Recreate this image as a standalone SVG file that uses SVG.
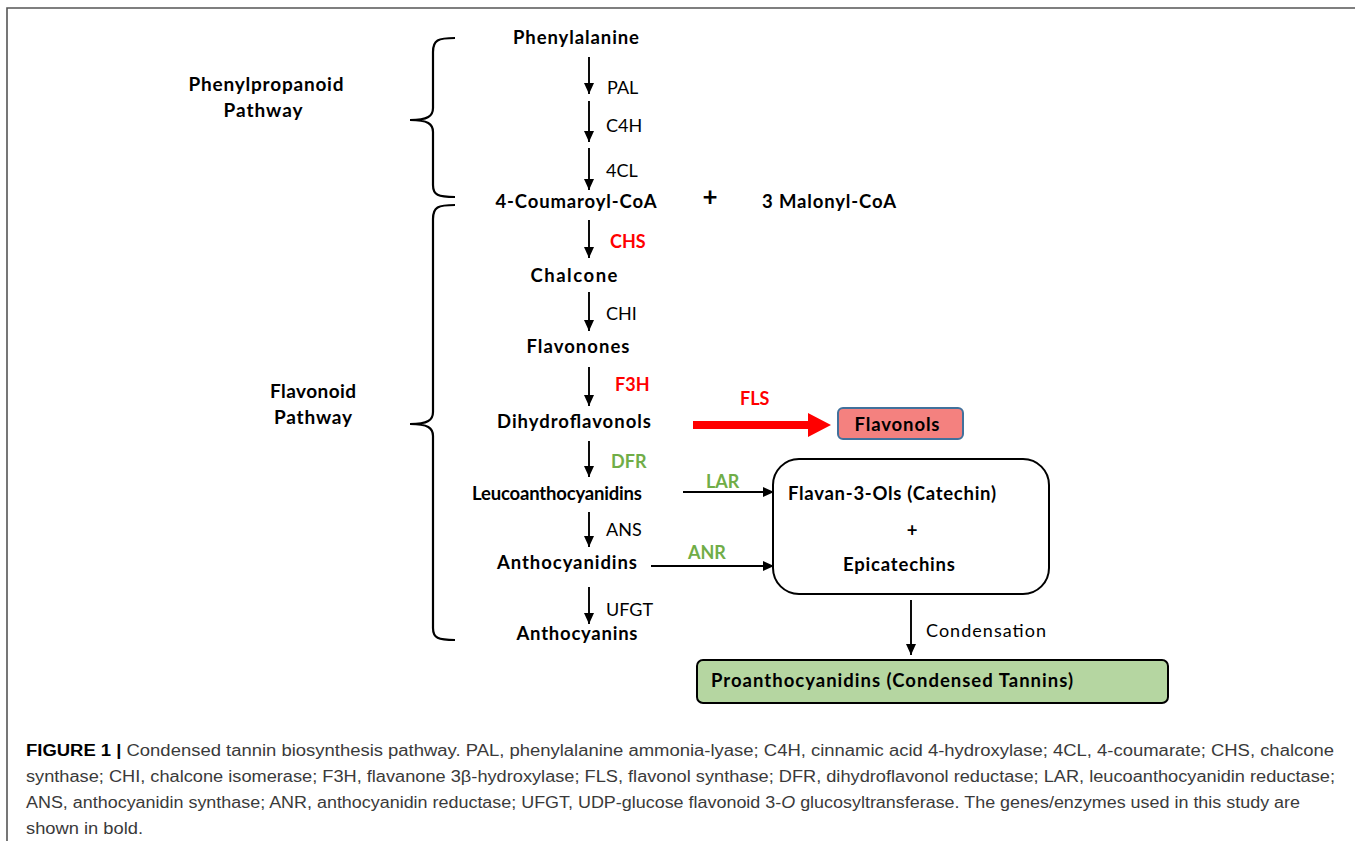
<svg xmlns="http://www.w3.org/2000/svg" width="1355" height="841" viewBox="0 0 1355 841">
<defs>
<marker id="ah" markerWidth="11" markerHeight="11" refX="11" refY="5.5" orient="auto" markerUnits="userSpaceOnUse">
<path d="M0,0.5 L11,5.5 L0,10.5 Z" fill="#000"/>
</marker>
<style>
.m{font-family:Lato,"Liberation Sans",sans-serif;font-weight:bold;font-size:18.5px;fill:#000}
.e{font-family:Lato,"Liberation Sans",sans-serif;font-size:18px;fill:#000}
.eb{font-family:Lato,"Liberation Sans",sans-serif;font-weight:bold;font-size:18px}
.pw{font-family:Lato,"Liberation Sans",sans-serif;font-weight:bold;font-size:19px;fill:#000}
.cap{font-family:"Liberation Sans",Arial,sans-serif;font-size:16px;fill:#3a3a3a}
.arr{stroke:#000;stroke-width:1.9;fill:none;marker-end:url(#ah)}
.br{stroke:#000;stroke-width:2.2;fill:none}
</style>
</defs>
<rect width="1355" height="841" fill="#fff"/>
<path d="M7,841 L7,8 L1355,8" fill="none" stroke="#555" stroke-width="1.6"/>

<g id="braces">
<path class="br" d="M455,38 C438,38 433,40 433,52 L433,108 C433,116 428,120 410,120 C428,120 433,124 433,132 L433,185 C433,195 438,197 455,197"/>
<path class="br" d="M455,205 C438,205 433,207 433,219 L433,412 C433,420 428,424 410,424 C428,424 433,428 433,436 L433,628 C433,638 438,640 455,640"/>
</g>
<g id="label-phenylpropanoid"><text class="pw" x="266" y="91" text-anchor="middle" textLength="155" lengthAdjust="spacing">Phenylpropanoid</text><text class="pw" x="263" y="117" text-anchor="middle" textLength="79" lengthAdjust="spacing">Pathway</text></g>
<g id="label-flavonoid"><text class="pw" x="313" y="398" text-anchor="middle" textLength="86" lengthAdjust="spacing">Flavonoid</text><text class="pw" x="313" y="424" text-anchor="middle" textLength="78" lengthAdjust="spacing">Pathway</text></g>

<g id="connectors">
<line class="arr" x1="589" y1="57" x2="589" y2="94"/>
<line class="arr" x1="589" y1="101" x2="589" y2="142"/>
<line class="arr" x1="589" y1="148" x2="589" y2="190"/>
<line class="arr" x1="589" y1="220" x2="589" y2="258"/>
<line class="arr" x1="589" y1="292" x2="589" y2="331"/>
<line class="arr" x1="589" y1="367" x2="589" y2="406"/>
<line class="arr" x1="589" y1="441" x2="589" y2="477"/>
<line class="arr" x1="589" y1="512" x2="589" y2="547"/>
<line class="arr" x1="589" y1="587" x2="589" y2="624"/>
<line class="arr" x1="683" y1="492" x2="774" y2="492"/>
<line class="arr" x1="651" y1="566" x2="774" y2="566"/>
<line class="arr" x1="911" y1="600" x2="911" y2="655"/>
<polygon points="693,421 808,421 808,413 831,425 808,437 808,429 693,429" fill="#ff0000"/>
</g>
<g id="enzymes">
<text class="e" x="607" y="94">PAL</text>
<text class="e" x="606" y="132">C4H</text>
<text class="e" x="606" y="177">4CL</text>
<text class="eb" x="610" y="248" fill="#ff0000">CHS</text>
<text class="e" x="606" y="320">CHI</text>
<text class="eb" x="615" y="391" fill="#ff0000">F3H</text>
<text class="eb" x="740" y="405" fill="#ff0000">FLS</text>
<text class="eb" x="611" y="468" fill="#70ad47">DFR</text>
<text class="eb" x="706" y="488" fill="#70ad47">LAR</text>
<text class="e" x="606" y="536">ANS</text>
<text class="eb" x="688" y="559" fill="#70ad47">ANR</text>
<text class="e" x="606" y="616">UFGT</text>
<text class="e" x="926" y="637" textLength="120" lengthAdjust="spacing">Condensation</text>
</g>

<g id="phenylalanine"><text class="m" x="576" y="44" text-anchor="middle" textLength="126" lengthAdjust="spacing">Phenylalanine</text></g>
<g id="coumaroyl"><text class="m" x="576" y="208" text-anchor="middle" textLength="161" lengthAdjust="spacing">4-Coumaroyl-CoA</text></g>
<g id="plus1"><text class="m" x="710" y="206" text-anchor="middle" style="font-size:26px">+</text></g>
<g id="malonyl"><text class="m" x="829" y="208" text-anchor="middle" textLength="134" lengthAdjust="spacing">3 Malonyl-CoA</text></g>
<g id="chalcone"><text class="m" x="574" y="282" text-anchor="middle" textLength="87" lengthAdjust="spacing">Chalcone</text></g>
<g id="flavonones"><text class="m" x="578" y="353" text-anchor="middle" textLength="103" lengthAdjust="spacing">Flavonones</text></g>
<g id="dihydroflavonols"><text class="m" x="574" y="428" text-anchor="middle" textLength="154" lengthAdjust="spacing">Dihydroflavonols</text></g>
<g id="flavonols"><rect x="838" y="408" width="125" height="31" rx="5" fill="#f4817f" stroke="#41719c" stroke-width="2"/><text class="m" x="897" y="431" text-anchor="middle" textLength="85" lengthAdjust="spacing">Flavonols</text></g>
<g id="leucoanthocyanidins"><text class="m" x="557" y="500" text-anchor="middle" textLength="170" lengthAdjust="spacing">Leucoanthocyanidins</text></g>
<g id="anthocyanidins"><text class="m" x="567" y="569" text-anchor="middle" textLength="140" lengthAdjust="spacing">Anthocyanidins</text></g>
<g id="anthocyanins"><text class="m" x="577" y="640" text-anchor="middle" textLength="121" lengthAdjust="spacing">Anthocyanins</text></g>
<g id="flavan3ols"><rect x="773" y="459" width="276" height="135" rx="26" fill="#fff" stroke="#000" stroke-width="2"/><text class="m" x="892" y="500" text-anchor="middle" textLength="208" lengthAdjust="spacing">Flavan-3-Ols (Catechin)</text><text class="m" x="912" y="537" text-anchor="middle">+</text><text class="m" x="899" y="571" text-anchor="middle" textLength="112" lengthAdjust="spacing">Epicatechins</text></g>
<g id="proanthocyanidins"><rect x="697" y="660" width="471" height="43" rx="6" fill="#b5d6a1" stroke="#000" stroke-width="2"/><text class="m" x="711" y="687" textLength="362" lengthAdjust="spacing">Proanthocyanidins (Condensed Tannins)</text></g>

<g id="caption">
<text class="cap" x="26" y="756" textLength="1308" lengthAdjust="spacingAndGlyphs"><tspan font-weight="bold" fill="#000">FIGURE 1 |</tspan> Condensed tannin biosynthesis pathway. PAL, phenylalanine ammonia-lyase; C4H, cinnamic acid 4-hydroxylase; 4CL, 4-coumarate; CHS, chalcone</text>
<text class="cap" x="26" y="782" textLength="1309" lengthAdjust="spacingAndGlyphs">synthase; CHI, chalcone isomerase; F3H, flavanone 3β-hydroxylase; FLS, flavonol synthase; DFR, dihydroflavonol reductase; LAR, leucoanthocyanidin reductase;</text>
<text class="cap" x="26" y="808" textLength="1274" lengthAdjust="spacingAndGlyphs">ANS, anthocyanidin synthase; ANR, anthocyanidin reductase; UFGT, UDP-glucose flavonoid 3-<tspan font-style="italic">O</tspan> glucosyltransferase. The genes/enzymes used in this study are</text>
<text class="cap" x="26" y="834" textLength="117" lengthAdjust="spacingAndGlyphs">shown in bold.</text>
</g>
</svg>
